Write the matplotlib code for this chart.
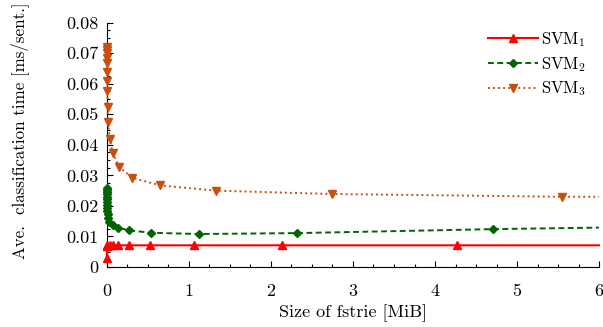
import matplotlib
matplotlib.use("Agg")
import matplotlib.pyplot as plt
from matplotlib.ticker import MultipleLocator, FuncFormatter

plt.rcParams['font.family'] = 'cmr10'
plt.rcParams['mathtext.fontset'] = 'cm'
plt.rcParams['axes.formatter.use_mathtext'] = True

# SVM1 (last point is the end of the line, no mark)
x1 = [0.0, 0.0, 0.002, 0.004, 0.035, 0.07, 0.13, 0.27, 0.53, 1.06, 2.13, 4.27, 6.0]
y1 = [0.0030, 0.0070, 0.0071, 0.0070, 0.0071, 0.0071, 0.0071, 0.0071, 0.0071, 0.0071, 0.0071, 0.0071, 0.0071]

# SVM2
x2 = [0.0, 0.0, 0.001, 0.001, 0.002, 0.002, 0.003, 0.004, 0.005, 0.006, 0.008, 0.012,
      0.03, 0.07, 0.13, 0.27, 0.54, 1.12, 2.32, 4.71, 6.0]
y2 = [0.0258, 0.0252, 0.0245, 0.0238, 0.0230, 0.0222, 0.0213, 0.0204, 0.0194, 0.0183, 0.0172, 0.0160,
      0.0148, 0.0138, 0.0129, 0.0120, 0.0112, 0.0108, 0.0111, 0.0124, 0.0129]

# SVM3
x3 = [0.0, 0.0, 0.001, 0.002, 0.003, 0.004, 0.005, 0.006, 0.008, 0.012, 0.035, 0.07,
      0.15, 0.31, 0.65, 1.33, 2.74, 5.55, 6.0]
y3 = [0.0722, 0.0712, 0.0700, 0.0685, 0.0668, 0.0640, 0.0608, 0.0575, 0.0525, 0.0476, 0.0418, 0.0372,
      0.0328, 0.0292, 0.0267, 0.0250, 0.0239, 0.0230, 0.0230]

fig = plt.figure(figsize=(6.03, 3.27), dpi=100)
ax = fig.add_axes([0.1774, 0.1835, 0.8160, 0.7471])

ax.plot(x1, y1, color='#ff0000', lw=1.5, marker='^', ms=5.5, markevery=slice(0, -1),
        clip_on=False, label='SVM$_1$', zorder=3)
ax.plot(x2, y2, color='#006400', lw=1.4, ls=(0, (3, 1.8)), marker='D', ms=4.2,
        markevery=slice(0, -1), clip_on=False, label='SVM$_2$', zorder=3)
ax.plot(x3, y3, color='#c8500f', lw=1.4, ls=(0, (1, 1.6)), marker='v', ms=5.5,
        markevery=slice(0, -1), clip_on=False, label='SVM$_3$', zorder=3)

ax.set_xlim(0, 6)
ax.set_ylim(0, 0.08)
ax.spines['top'].set_visible(False)
ax.spines['right'].set_visible(False)
ax.xaxis.set_major_locator(MultipleLocator(1))
ax.xaxis.set_minor_locator(MultipleLocator(0.25))
ax.yaxis.set_major_locator(MultipleLocator(0.01))
ax.yaxis.set_minor_locator(MultipleLocator(0.0025))
ax.yaxis.set_major_formatter(FuncFormatter(lambda v, p: '0' if abs(v) < 1e-9 else '%.2f' % v))
ax.xaxis.set_major_formatter(FuncFormatter(lambda v, p: '%d' % round(v)))
ax.tick_params(which='both', direction='in', labelsize=13, width=0.8)
ax.tick_params(which='major', length=4.5, pad=6)
ax.tick_params(which='minor', length=2.5)
ax.tick_params(axis='x', which='major', pad=12)

ax.set_xlabel('Size of fstrie [MiB]', fontsize=13, labelpad=4)
ax.set_ylabel('Ave.  classification time [ms/sent.]', fontsize=12.2, labelpad=27)
ax.yaxis.label.set_y(0.557)

ax.legend(loc='upper right', frameon=False, fontsize=12, handlelength=3.0,
          bbox_to_anchor=(1.004, 1.031), labelspacing=0.35, handletextpad=0.15)

fig.savefig('out.png', dpi=100)
